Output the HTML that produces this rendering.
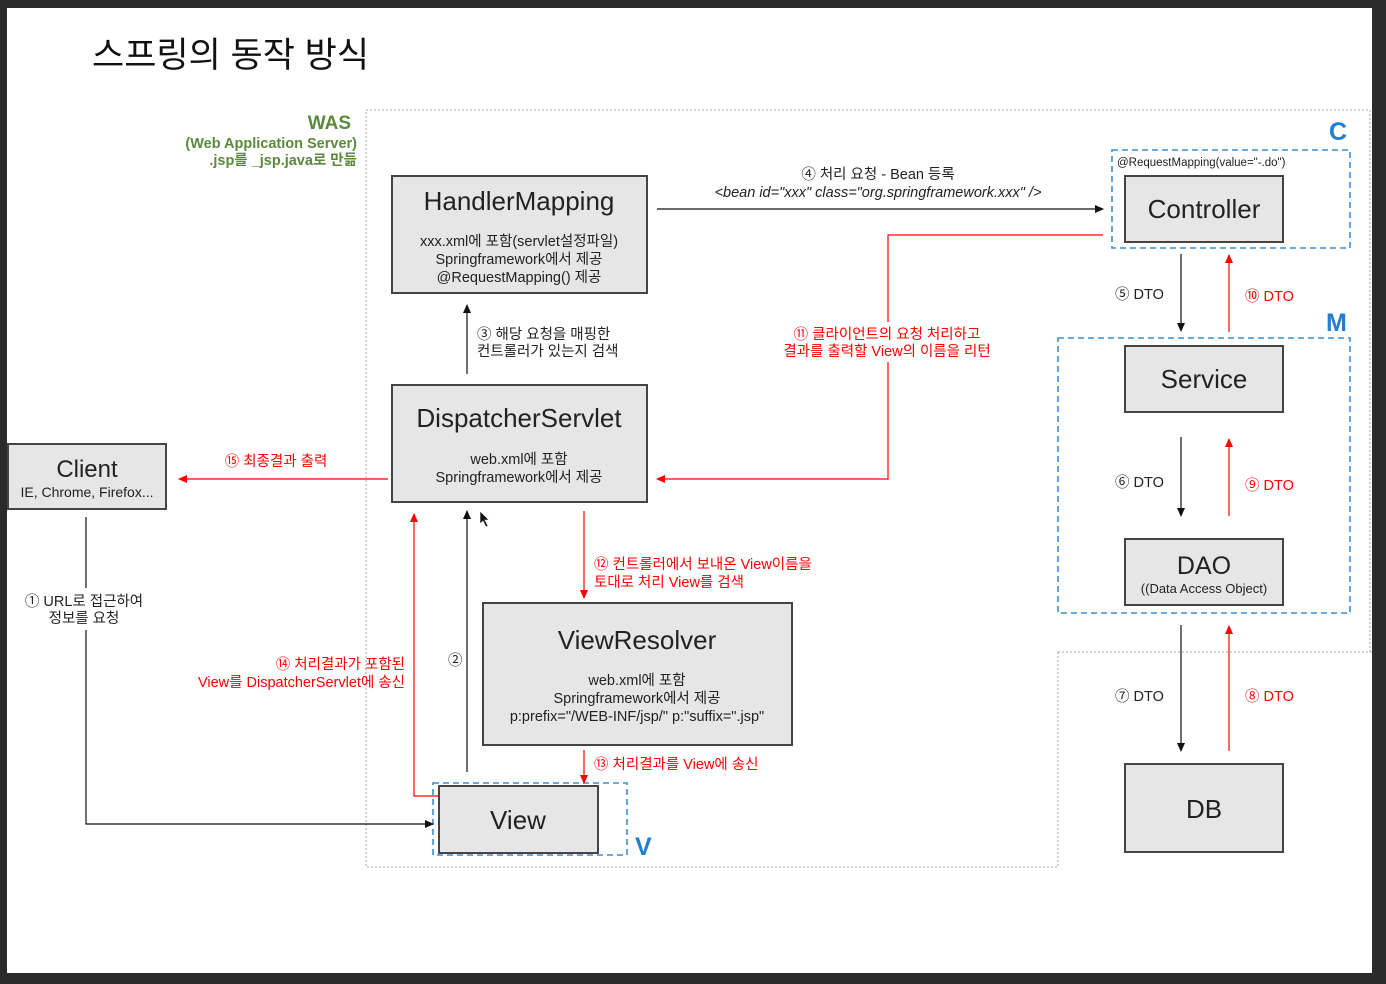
<!DOCTYPE html>
<html><head><meta charset="utf-8"><style>
html,body{margin:0;padding:0;background:#2b2b2b;}
svg{display:block;}
text{font-family:"Liberation Sans","Noto Sans CJK KR",sans-serif;}
</style></head><body>
<svg width="1386" height="984" viewBox="0 0 1386 984" xmlns="http://www.w3.org/2000/svg">
<defs>
<marker id="ab" markerWidth="10" markerHeight="10" refX="8" refY="4" orient="auto" markerUnits="userSpaceOnUse"><path d="M0,0 L9,4 L0,8 z" fill="#111"/></marker>
<marker id="ar" markerWidth="10" markerHeight="10" refX="8" refY="4" orient="auto" markerUnits="userSpaceOnUse"><path d="M0,0 L9,4 L0,8 z" fill="#f00"/></marker>
</defs>
<rect x="0" y="0" width="1386" height="984" fill="#2b2b2b"/>
<rect x="7" y="8" width="1365" height="965" fill="#fff"/>

<text x="92" y="67" font-size="35" fill="#111">스프링의 동작 방식</text>

<path d="M366,110 L1370,110 L1370,652 M1058,652 L1372,652 M1058,652 L1058,867 L366,867 L366,110" fill="none" stroke="#b8bcaa" stroke-width="1.3" stroke-dasharray="2,2"/>
<g fill="#5a8a3a" font-weight="bold" text-anchor="end">
<text x="351" y="129" font-size="19">WAS</text>
<text x="357" y="148" font-size="14.5">(Web Application Server)</text>
<text x="357" y="165" font-size="14.5">.jsp를 _jsp.java로 만듦</text>
</g>

<g fill="#e6e6e6" stroke="#444" stroke-width="2">
<rect x="392" y="176" width="255" height="117"/>
<rect x="392" y="385" width="255" height="117"/>
<rect x="8" y="444" width="158" height="65"/>
<rect x="483" y="603" width="309" height="142"/>
<rect x="439" y="786" width="159" height="67"/>
<rect x="1125" y="176" width="158" height="66"/>
<rect x="1125" y="346" width="158" height="66"/>
<rect x="1125" y="539" width="158" height="66"/>
<rect x="1125" y="764" width="158" height="88"/>
</g>

<g fill="none" stroke="#3b8fd6" stroke-width="1.6" stroke-dasharray="6,4">
<rect x="433" y="783" width="194" height="72"/>
<rect x="1112" y="150" width="238" height="98"/>
<rect x="1058" y="338" width="292" height="275"/>
</g>
<g fill="#1f7fd1" font-weight="bold" font-size="25">
<text x="635" y="855">V</text>
<text x="1329" y="140">C</text>
<text x="1326" y="331">M</text>
</g>

<g fill="#222" text-anchor="middle">
<text x="519" y="210" font-size="26">HandlerMapping</text>
<text x="519" y="246" font-size="14.5">xxx.xml에 포함(servlet설정파일)</text>
<text x="519" y="264" font-size="14.5">Springframework에서 제공</text>
<text x="519" y="282" font-size="14.5">@RequestMapping() 제공</text>

<text x="519" y="427" font-size="26">DispatcherServlet</text>
<text x="519" y="464" font-size="14.5">web.xml에 포함</text>
<text x="519" y="482" font-size="14.5">Springframework에서 제공</text>

<text x="87" y="477" font-size="24">Client</text>
<text x="87" y="497" font-size="14">IE, Chrome, Firefox...</text>

<text x="637" y="649" font-size="26">ViewResolver</text>
<text x="637" y="685" font-size="14.5">web.xml에 포함</text>
<text x="637" y="703" font-size="14.5">Springframework에서 제공</text>
<text x="637" y="721" font-size="14.5">p:prefix="/WEB-INF/jsp/" p:"suffix=".jsp"</text>

<text x="518" y="829" font-size="26">View</text>
<text x="1204" y="218" font-size="26">Controller</text>
<text x="1204" y="388" font-size="26">Service</text>
<text x="1204" y="574" font-size="25">DAO</text>
<text x="1204" y="593" font-size="13">((Data Access Object)</text>
<text x="1204" y="818" font-size="26">DB</text>
</g>
<text x="1117" y="166" font-size="11.5" fill="#222">@RequestMapping(value="-.do")</text>

<g stroke="#111" stroke-width="1.2" fill="none">
<line x1="657" y1="209" x2="1103" y2="209" marker-end="url(#ab)"/>
<line x1="467" y1="374" x2="467" y2="305" marker-end="url(#ab)"/>
<polyline points="86,517 86,824 433,824" marker-end="url(#ab)"/>
<line x1="467" y1="772" x2="467" y2="511" marker-end="url(#ab)"/>
<line x1="1181" y1="254" x2="1181" y2="331" marker-end="url(#ab)"/>
<line x1="1181" y1="437" x2="1181" y2="516" marker-end="url(#ab)"/>
<line x1="1181" y1="625" x2="1181" y2="751" marker-end="url(#ab)"/>
</g>
<g stroke="#f00" stroke-width="1.2" fill="none">
<polyline points="1103,235 888,235 888,479 657,479" marker-end="url(#ar)"/>
<line x1="388" y1="479" x2="179" y2="479" marker-end="url(#ar)"/>
<polyline points="439,796 414,796 414,514" marker-end="url(#ar)"/>
<line x1="584" y1="511" x2="584" y2="598" marker-end="url(#ar)"/>
<line x1="584" y1="750" x2="584" y2="783" marker-end="url(#ar)"/>
<line x1="1229" y1="332" x2="1229" y2="255" marker-end="url(#ar)"/>
<line x1="1229" y1="516" x2="1229" y2="439" marker-end="url(#ar)"/>
<line x1="1229" y1="751" x2="1229" y2="626" marker-end="url(#ar)"/>
</g>

<rect x="18" y="588" width="136" height="42" fill="#fff"/>
<rect x="772" y="322" width="232" height="40" fill="#fff"/>

<g fill="#222" font-size="14.5">
<text x="878" y="179" text-anchor="middle">④ 처리 요청 - Bean 등록</text>
<text x="878" y="197" text-anchor="middle" font-style="italic">&lt;bean id="xxx" class="org.springframework.xxx" /&gt;</text>
<text x="477" y="339">③ 해당 요청을 매핑한</text>
<text x="477" y="356">컨트롤러가 있는지 검색</text>
<text x="84" y="606" text-anchor="middle">① URL로 접근하여</text>
<text x="84" y="623" text-anchor="middle">정보를 요청</text>
<text x="448" y="665">②</text>
<text x="1115" y="299">⑤ DTO</text>
<text x="1115" y="487">⑥ DTO</text>
<text x="1115" y="701">⑦ DTO</text>
</g>
<g fill="#f00" font-size="14.5">
<text x="887" y="339" text-anchor="middle">⑪ 클라이언트의 요청 처리하고</text>
<text x="887" y="356" text-anchor="middle">결과를 출력할 View의 이름을 리턴</text>
<text x="276" y="466" text-anchor="middle">⑮ 최종결과 출력</text>
<text x="405" y="669" text-anchor="end">⑭ 처리결과가 포함된</text>
<text x="405" y="687" text-anchor="end">View를 DispatcherServlet에 송신</text>
<text x="594" y="569">⑫ 컨트롤러에서 보내온 View이름을</text>
<text x="594" y="587">토대로 처리 View를 검색</text>
<text x="594" y="769">⑬ 처리결과를 View에 송신</text>
<text x="1245" y="301">⑩ DTO</text>
<text x="1245" y="490">⑨ DTO</text>
<text x="1245" y="701">⑧ DTO</text>
</g>
<path d="M480,511 L480,524 L483,521 L486,527 L488,526 L485,520 L489,520 z" fill="#111" stroke="#fff" stroke-width="0.6"/>
</svg>
</body></html>
